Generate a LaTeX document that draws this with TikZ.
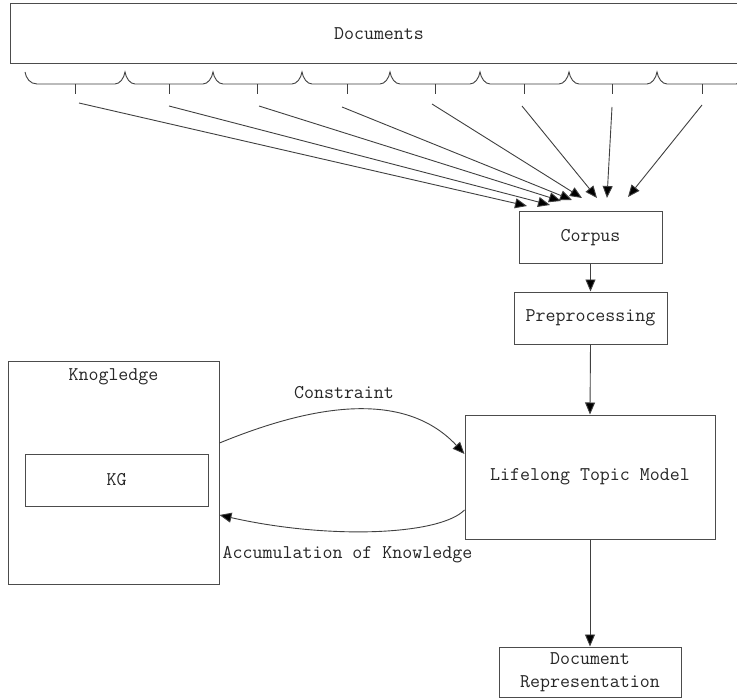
\documentclass[tikz,border=0pt]{standalone}
\usetikzlibrary{arrows.meta}
\begin{document}
\begin{tikzpicture}[x=1pt,y=-1pt,
  lbl/.style={font=\ttfamily\fontsize{19.4}{23}\selectfont, text=black!85, inner sep=0pt},
  box/.style={lbl, draw=black!70, line width=1pt, align=center},
  conn/.style={draw=black!75, line width=0.9pt, -{Triangle[length=12pt,width=10pt,fill=black]}},
  brace/.style={draw=black!75, line width=0.9pt}]
\useasboundingbox (0,0) rectangle (737,698);
\fill[white] (0,0) rectangle (737,698);

% boxes
\node[box, minimum width=738pt, minimum height=60pt] (docs) at (379,34) {Documents};
\node[box, minimum width=143pt, minimum height=51pt] (corpus) at (590.5,237.5) {Corpus};
\node[box, minimum width=153pt, minimum height=52pt] (prep) at (590.5,318) {Preprocessing};
\node[box, minimum width=250pt, minimum height=124pt] (ltm) at (590,477) {Lifelong Topic Model};
\node[box, minimum width=182pt, minimum height=50pt] (rep) at (590,672) {Document\\Representation};
\node[box, minimum width=211pt, minimum height=223pt] (know) at (113.5,472.5) {};
\node[lbl] (knowtitle) at (113.5,377) {Knogledge};
\node[box, minimum width=183pt, minimum height=52pt] (kg) at (116.5,480) {KG};

% braces under Documents
\draw[brace] (25,72) .. controls (26,78) and (30,84) .. (37,84)
  \foreach \a in {125,213,302,390,480,569,657,746} {
    -- (\a-10,84) .. controls (\a-5,84) and (\a-1,78) .. (\a,72)
    .. controls (\a+1,78) and (\a+5,84) .. (\a+10,84)
  };
\foreach \m in {75,169,257,347,435,524,612,702} {
  \draw[brace] (\m,84) -- (\m,94);
}

% document arrows
\coordinate (s1) at (79,103);  \coordinate (t1) at (527,206);
\coordinate (s2) at (169,106); \coordinate (t2) at (550,205);
\coordinate (s3) at (259,106); \coordinate (t3) at (561,201);
\coordinate (s4) at (342,107); \coordinate (t4) at (572,200);
\coordinate (s5) at (432,104); \coordinate (t5) at (582,198);
\coordinate (s6) at (522,106); \coordinate (t6) at (597,198);
\coordinate (s7) at (612,107); \coordinate (t7) at (607,198);
\coordinate (s8) at (702,105); \coordinate (t8) at (628,197);
\foreach \i in {1,...,8} {
  \draw[conn] (s\i) -- (t\i);
}

% main flow
\draw[conn] (corpus.south) -- (prep.north);
\draw[conn] (prep.south) -- (ltm.north);
\draw[conn] (ltm.south) -- (rep.north);

% knowledge loop
\draw[conn] ([yshift=29.5pt]know.east) .. controls (300,410) and (400,385) .. ([yshift=23pt]ltm.west);
\draw[conn] ([yshift=-33pt]ltm.west) .. controls (440,535) and (330,540) .. ([yshift=-42.5pt]know.east);
\node[lbl] (constraint) at (344,393) {Constraint};
\node[lbl] (accum) at (347.5,555) {Accumulation of Knowledge};
\end{tikzpicture}
\end{document}
